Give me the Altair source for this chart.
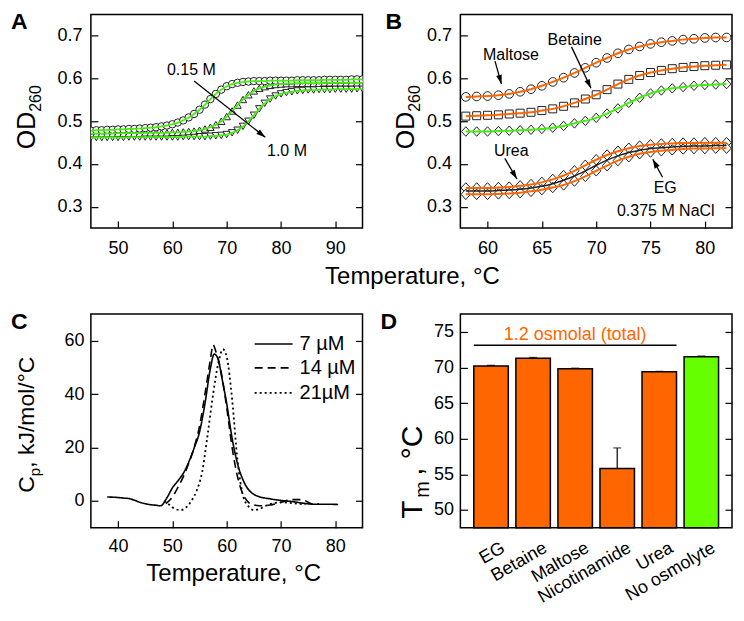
import math
import altair as alt
import pandas as pd

FONT = "Liberation Sans"
ORANGE = "#FF6600"
GREEN = "#66FF00"
FIT_GREEN = "#44EE11"
EDGE = "#222222"
ARROW_HEAD = "M0,0L0.32,1L-0.32,1Z"
TALL_DIAMOND = "M0,-1L0.9,0L0,1L-0.9,0Z"

panel_letters = ["A", "B", "C", "D"]
temp_title = "Temperature, °C"

a_temp = [45, 46, 47, 48, 49, 50, 51, 52, 53, 54,
          55, 56, 57, 58, 59, 60, 61, 62, 63, 64,
          65, 66, 67, 68, 69, 70, 71, 72, 73, 74,
          75, 76, 77, 78, 79, 80, 81, 82, 83, 84,
          85, 86, 87, 88, 89, 90, 91, 92, 93, 94, 95]
a_015 = [0.478, 0.479, 0.479, 0.480, 0.480, 0.481, 0.481, 0.482, 0.482, 0.483,
         0.484, 0.485, 0.486, 0.488, 0.490, 0.493, 0.497, 0.502, 0.509, 0.517,
         0.527, 0.539, 0.552, 0.564, 0.574, 0.582, 0.587, 0.590, 0.592, 0.593,
         0.594, 0.594, 0.594, 0.595, 0.595, 0.595, 0.595, 0.595, 0.596, 0.596,
         0.596, 0.596, 0.596, 0.597, 0.597, 0.597, 0.597, 0.597, 0.598, 0.598, 0.598]
a_mid = [0.471, 0.471, 0.471, 0.471, 0.471, 0.472, 0.472, 0.472, 0.472, 0.472,
         0.473, 0.473, 0.473, 0.473, 0.473, 0.474, 0.474, 0.475, 0.476, 0.477,
         0.479, 0.482, 0.486, 0.492, 0.500, 0.511, 0.524, 0.538, 0.551, 0.562,
         0.571, 0.577, 0.581, 0.584, 0.586, 0.587, 0.588, 0.588, 0.589, 0.589,
         0.589, 0.589, 0.589, 0.590, 0.590, 0.590, 0.590, 0.590, 0.590, 0.590, 0.590]
a_100 = [0.462, 0.462, 0.462, 0.462, 0.462, 0.462, 0.462, 0.463, 0.463, 0.463,
         0.463, 0.463, 0.463, 0.463, 0.463, 0.463, 0.463, 0.464, 0.464, 0.464,
         0.464, 0.464, 0.465, 0.466, 0.467, 0.469, 0.473, 0.479, 0.488, 0.500,
         0.514, 0.529, 0.542, 0.552, 0.559, 0.564, 0.567, 0.569, 0.571, 0.572,
         0.573, 0.573, 0.574, 0.574, 0.574, 0.575, 0.575, 0.575, 0.575, 0.576, 0.576]
a_labels = ["0.15 M", "1.0 M"]
a_label_t = [63.5, 81.1]
a_label_v = [0.619, 0.431]
a_arrow_t1 = [64.0]
a_arrow_v1 = [0.594]
a_arrow_t2 = [77.1]
a_arrow_v2 = [0.4625]

b_temp = [58, 59, 60, 61, 62, 63, 64, 65, 66, 67, 68, 69, 70,
          71, 72, 73, 74, 75, 76, 77, 78, 79, 80, 81, 82]
b_maltose = [0.557, 0.558, 0.559, 0.561, 0.564, 0.569, 0.575, 0.583, 0.592, 0.602, 0.613, 0.625, 0.637,
             0.648, 0.659, 0.668, 0.675, 0.681, 0.685, 0.688, 0.691, 0.693, 0.695, 0.696, 0.696]
b_betaine = [0.512, 0.513, 0.514, 0.515, 0.517, 0.519, 0.521, 0.525, 0.529, 0.535, 0.543, 0.552, 0.562,
             0.574, 0.587, 0.598, 0.607, 0.614, 0.619, 0.623, 0.626, 0.628, 0.630, 0.631, 0.632]
b_none = [0.476, 0.476, 0.476, 0.477, 0.478, 0.479, 0.480, 0.482, 0.485, 0.489, 0.495, 0.501, 0.508,
          0.518, 0.530, 0.543, 0.555, 0.565, 0.572, 0.577, 0.580, 0.583, 0.585, 0.586, 0.587]
b_urea = [0.344, 0.344, 0.344, 0.345, 0.346, 0.349, 0.352, 0.357, 0.364, 0.373, 0.384, 0.397, 0.410,
          0.421, 0.430, 0.437, 0.442, 0.445, 0.447, 0.448, 0.449, 0.449, 0.450, 0.450, 0.450]
b_eg = [0.329, 0.329, 0.329, 0.330, 0.331, 0.333, 0.336, 0.340, 0.345, 0.351, 0.360, 0.371, 0.384,
        0.396, 0.408, 0.417, 0.424, 0.428, 0.431, 0.433, 0.435, 0.436, 0.436, 0.437, 0.437]
b_mid = [0.337, 0.337, 0.337, 0.338, 0.339, 0.341, 0.344, 0.348, 0.354, 0.362, 0.372, 0.384, 0.397,
         0.409, 0.419, 0.427, 0.432, 0.436, 0.438, 0.440, 0.441, 0.442, 0.442, 0.443, 0.443]
b_labels = ["Maltose", "Betaine", "Urea", "EG"]
b_label_t = [62.16, 68.02, 62.18, 76.35]
b_label_v = [0.655, 0.689, 0.430, 0.344]
b_arrow_t1 = [60.69, 67.73, 61.59, 76.11]
b_arrow_v1 = [0.6406, 0.674, 0.413, 0.369]
b_arrow_t2 = [61.28, 69.52, 62.70, 75.21]
b_arrow_v2 = [0.587, 0.577, 0.365, 0.411]
b_note = ["0.375 M NaCl"]
b_note_t = [80.9]
b_note_v = [0.289]

c_series = ["7 µM", "14 µM", "21µM"]
c7_t = [38, 40, 41, 42, 43, 44, 45, 46, 47, 47.8, 49, 50, 51, 52, 53, 54, 55, 56, 57, 57.7,
        58.5, 59, 60, 61, 62, 63, 64, 65, 66, 68, 70, 72, 74, 76, 78, 80.5]
c7_v = [1.5, 1.3, 1.1, 0.9, 0.3, -0.5, -1.0, -1.4, -1.6, -1.8, 1.2, 4.9, 7.5, 10.3, 14.5, 19.8, 25.8, 36.5, 49.6, 55.0,
        52.6, 47.3, 36.5, 23.4, 13.9, 7.9, 4.3, 2.5, 1.6, 0.8, 0.2, -0.2, -0.8, -1.2, -1.2, -1.3]
c14_t = [48.8, 50, 51, 52, 53, 54, 55, 56, 57, 57.5, 58, 59, 60, 61, 62, 63, 64, 65, 66, 68,
         70, 72, 74, 75, 76, 77]
c14_v = [-1.0, 1.5, 5.0, 9.0, 14.0, 20.0, 28.0, 40.0, 53.0, 58.5, 56.0, 48.0, 35.0, 20.0, 9.0, 2.5, -0.5, -1.5, -1.8, -1.5,
         -0.5, 0.5, 0.5, -0.5, -1.2, -1.0]
c21_t = [48.5, 49.5, 50.5, 51.5, 52.5, 53.5, 54.5, 55.5, 56.5, 57.5, 58.5, 59.3, 60, 61, 62, 63, 64, 65, 66, 67,
         68, 70, 72, 74.5]
c21_v = [0.0, -1.5, -3.0, -3.4, -2.5, 0.0, 4.0, 11.0, 25.0, 40.0, 52.0, 56.8, 54.0, 38.0, 15.0, 2.0, -2.0, -3.4, -3.0, -2.0,
         -1.2, -0.5, -0.8, -1.3]

d_cats = ["EG", "Betaine", "Maltose", "Nicotinamide", "Urea", "No osmolyte"]
d_tm = [70.2, 71.3, 69.8, 55.8, 69.4, 71.5]
d_err = [0.1, 0.1, 0.1, 2.9, 0.05, 0.1]
d_group = ["osmolyte", "osmolyte", "osmolyte", "osmolyte", "osmolyte", "none"]
osm_text = ["1.2 osmolal (total)"]
osm_span = ["EG", "Urea"]
osm_line_y = [73.1]
osm_text_at = ["Maltose"]
osm_text_y = [74.55]

W, H = 272, 214
TICK = 7
PAD_IN, PAD_OUT = 0.18, 0.32


def txt(s, x, y, size=16, align="center", baseline="middle", angle=0, weight="normal", color="black"):
    return alt.Chart(pd.DataFrame({"t": [s]})).mark_text(
        font=FONT, fontSize=size, align=align, baseline=baseline, angle=angle,
        fontWeight=weight, color=color).encode(x=alt.value(x), y=alt.value(y), text="t:N")


def frame_layers(xs, ys, xdom, ydom, xticks, yticks, xfmt, yfmt, xpad, ypad, fs=18):
    df = pd.DataFrame({"x": [xdom[0]], "y": [ydom[0]]})
    base = alt.Chart(df).mark_point(opacity=0)
    tick_kw = dict(labels=False, ticks=True, tickSize=TICK, tickWidth=1.2, tickColor="black",
                   domain=False, grid=False, title=None)
    lab = base.encode(
        x=alt.X("x:Q", scale=xs, axis=alt.Axis(orient="bottom", values=xticks, format=xfmt, ticks=False,
                                                domain=False, grid=False, labelFontSize=fs, labelPadding=xpad,
                                                title=None, labelFlush=False, labelOverlap=False)),
        y=alt.Y("y:Q", scale=ys, axis=alt.Axis(orient="left", values=yticks, format=yfmt, ticks=False,
                                                domain=False, grid=False, labelFontSize=fs, labelPadding=ypad,
                                                title=None, labelFlush=False, labelOverlap=False)))
    tk1 = base.encode(
        x=alt.X("x:Q", scale=xs, axis=alt.Axis(orient="top", offset=-H, values=xticks, **tick_kw)),
        y=alt.Y("y:Q", scale=ys, axis=alt.Axis(orient="right", offset=-W, values=yticks, **tick_kw)))
    tk2 = base.encode(
        x=alt.X("x:Q", scale=xs, axis=None),
        y=alt.Y("y:Q", scale=ys, axis=alt.Axis(orient="left", offset=-W, values=yticks, **tick_kw)))
    return [lab, tk1, tk2]


def arrows(xs, ys, xdom, ydom, t1, v1, t2, v2):
    ang = []
    for a, b, c, d in zip(t1, v1, t2, v2):
        dx = (c - a) / (xdom[1] - xdom[0]) * W
        dy = -(d - b) / (ydom[1] - ydom[0]) * H
        ang.append(math.degrees(math.atan2(dx, -dy)) % 360)
    df = pd.DataFrame({"t1": t1, "v1": v1, "t2": t2, "v2": v2, "ang": ang})
    rule = alt.Chart(df).mark_rule(color="black", strokeWidth=1.3).encode(
        x=alt.X("t1:Q", scale=xs, axis=None), y=alt.Y("v1:Q", scale=ys, axis=None),
        x2="t2:Q", y2="v2:Q")
    head = alt.Chart(df).mark_point(shape=ARROW_HEAD, size=330, filled=True, color="black", opacity=1).encode(
        x=alt.X("t2:Q", scale=xs, axis=None), y=alt.Y("v2:Q", scale=ys, axis=None),
        angle=alt.Angle("ang:Q", scale=None))
    return [rule, head]


def series_points(xs, ys, temps, vals, shape, size):
    df = pd.DataFrame({"t": temps, "v": vals})
    return alt.Chart(df).mark_point(shape=shape, size=size, filled=True, fill="white", stroke=EDGE,
                                    strokeWidth=1, opacity=1, clip=True).encode(
        x=alt.X("t:Q", scale=xs, axis=None), y=alt.Y("v:Q", scale=ys, axis=None))


def series_line(xs, ys, temps, vals, color, width=2.0, dash=None):
    df = pd.DataFrame({"t": temps, "v": vals})
    kw = dict(color=color, strokeWidth=width, interpolate="monotone", clip=True)
    if dash is not None:
        kw["strokeDash"] = dash
    return alt.Chart(df).mark_line(**kw).encode(
        x=alt.X("t:Q", scale=xs, axis=None), y=alt.Y("v:Q", scale=ys, axis=None))


def labels_layer(xs, ys, names, ts, vs, size=16, align="center"):
    df = pd.DataFrame({"n": names, "t": ts, "v": vs})
    return alt.Chart(df).mark_text(font=FONT, fontSize=size, align=align, baseline="middle", color="black").encode(
        x=alt.X("t:Q", scale=xs, axis=None), y=alt.Y("v:Q", scale=ys, axis=None), text="n:N")


# ---------- A ----------
xdA, ydA = [45, 95], [0.25, 0.75]
xsA = alt.Scale(domain=xdA, nice=False, zero=False)
ysA = alt.Scale(domain=ydA, nice=False, zero=False)
layersA = frame_layers(xsA, ysA, xdA, ydA, [50, 60, 70, 80, 90], [0.3, 0.4, 0.5, 0.6, 0.7],
                       "d", ".1f", 11, 9)
layersA += [
    series_points(xsA, ysA, a_temp, a_100, "triangle-down", 55),
    series_points(xsA, ysA, a_temp, a_mid, "triangle-up", 55),
    series_points(xsA, ysA, a_temp, a_015, "circle", 55),
    series_line(xsA, ysA, a_temp, a_100, FIT_GREEN, 1.8),
    series_line(xsA, ysA, a_temp, a_mid, FIT_GREEN, 1.8),
    series_line(xsA, ysA, a_temp, a_015, FIT_GREEN, 1.8),
]
layersA += arrows(xsA, ysA, xdA, ydA, a_arrow_t1, a_arrow_v1, a_arrow_t2, a_arrow_v2)
layersA += [
    labels_layer(xsA, ysA, a_labels, a_label_t, a_label_v),
    txt(panel_letters[0], -80, -3, 23, align="left", baseline="top", weight="bold"),
    txt("OD", -55.5, 135, 25, align="left", baseline="alphabetic", angle=270),
    txt("260", -49.5, 97.5, 16, align="left", baseline="alphabetic", angle=270),
    txt(temp_title, 322, H + 49, 24),
]
chartA = alt.layer(*layersA).resolve_axis(x="independent", y="independent")

# ---------- B ----------
xdB, ydB = [57.5, 82.5], [0.25, 0.75]
xsB = alt.Scale(domain=xdB, nice=False, zero=False)
ysB = alt.Scale(domain=ydB, nice=False, zero=False)
layersB = frame_layers(xsB, ysB, xdB, ydB, [60, 65, 70, 75, 80], [0.3, 0.4, 0.5, 0.6, 0.7],
                       "d", ".1f", 11, 9)
layersB += [
    series_points(xsB, ysB, b_temp, b_maltose, "circle", 75),
    series_points(xsB, ysB, b_temp, b_betaine, "square", 64),
    series_points(xsB, ysB, b_temp, b_none, TALL_DIAMOND, 90),
    series_points(xsB, ysB, b_temp, b_urea, TALL_DIAMOND, 110),
    series_points(xsB, ysB, b_temp, b_eg, TALL_DIAMOND, 110),
    series_line(xsB, ysB, b_temp, b_mid, "#222222", 1.5),
    series_line(xsB, ysB, b_temp, b_maltose, ORANGE),
    series_line(xsB, ysB, b_temp, b_betaine, ORANGE),
    series_line(xsB, ysB, b_temp, b_none, FIT_GREEN),
    series_line(xsB, ysB, b_temp, b_urea, ORANGE),
    series_line(xsB, ysB, b_temp, b_eg, ORANGE),
]
layersB += arrows(xsB, ysB, xdB, ydB, b_arrow_t1, b_arrow_v1, b_arrow_t2, b_arrow_v2)
layersB += [
    labels_layer(xsB, ysB, b_labels, b_label_t, b_label_v),
    labels_layer(xsB, ysB, b_note, b_note_t, b_note_v, align="right"),
    txt(panel_letters[1], -75, -3, 23, align="left", baseline="top", weight="bold"),
    txt("OD", -46, 135, 25, align="left", baseline="alphabetic", angle=270),
    txt("260", -40, 97.5, 16, align="left", baseline="alphabetic", angle=270),
]
chartB = alt.layer(*layersB).resolve_axis(x="independent", y="independent")

# ---------- C ----------
xdC, ydC = [35, 85], [-10, 70]
xsC = alt.Scale(domain=xdC, nice=False, zero=False)
ysC = alt.Scale(domain=ydC, nice=False, zero=False)
layersC = frame_layers(xsC, ysC, xdC, ydC, [40, 50, 60, 70, 80], [0, 20, 40, 60],
                       "d", "d", 10, 7)
dashes = [[1, 0], [8, 5], [2, 3]]
layersC += [
    series_line(xsC, ysC, c7_t, c7_v, "black", 1.6, dashes[0]),
    series_line(xsC, ysC, c14_t, c14_v, "black", 1.6, dashes[1]),
    series_line(xsC, ysC, c21_t, c21_v, "black", 1.8, dashes[2]),
]
leg_rows = [30, 54, 79]
for name, dash, ry in zip(c_series, dashes, leg_rows):
    layersC.append(alt.Chart(pd.DataFrame({"n": [name]})).mark_rule(
        color="black", strokeWidth=1.6, strokeDash=dash).encode(
        x=alt.value(164), x2=alt.value(202), y=alt.value(ry)))
    layersC.append(txt(name, 209, ry, 20, align="left"))
layersC += [
    txt(panel_letters[2], -80, -3, 23, align="left", baseline="top", weight="bold"),
    txt("C", -57, 179, 23, align="left", baseline="alphabetic", angle=270),
    txt("p", -51, 162.4, 15, align="left", baseline="alphabetic", angle=270),
    txt(", kJ/mol/°C", -57, 154, 23, align="left", baseline="alphabetic", angle=270),
    txt(temp_title, 143, H + 46, 24),
]
chartC = alt.layer(*layersC).resolve_axis(x="independent", y="independent")

# ---------- D ----------
ydD = [47.5, 77.5]
xsD = alt.Scale(domain=d_cats, paddingInner=PAD_IN, paddingOuter=PAD_OUT)
ysD = alt.Scale(domain=ydD, nice=False, zero=False)
dfD = pd.DataFrame({"cat": d_cats, "tm": d_tm, "err": d_err, "grp": d_group})
dfD["top"] = dfD["tm"] + dfD["err"]
d_yticks = [50, 55, 60, 65, 70, 75]
tick_kwD = dict(labels=False, ticks=True, tickSize=TICK, tickWidth=1.2, tickColor="black",
                domain=False, grid=False, title=None, values=d_yticks)
xD_none = alt.X("cat:N", scale=xsD, sort=d_cats, axis=None)

bars = alt.Chart(dfD).mark_bar(stroke="black", strokeWidth=1.5).encode(
    x=alt.X("cat:N", scale=xsD, sort=d_cats,
            axis=alt.Axis(orient="bottom", ticks=False, domain=False, labelAngle=-30, labelAlign="right",
                          labelBaseline="top", labelFontSize=18, labelPadding=11, labelOffset=8,
                          title=None, labelOverlap=False)),
    y=alt.Y("tm:Q", scale=ysD,
            axis=alt.Axis(orient="left", values=d_yticks, ticks=False, domain=False,
                          grid=False, labelFontSize=18, labelPadding=7, title=None, labelOverlap=False,
                          labelFlush=False)),
    y2=alt.datum(ydD[0]),
    color=alt.Color("grp:N", scale=alt.Scale(domain=["osmolyte", "none"], range=[ORANGE, GREEN]), legend=None),
)
err_rule = alt.Chart(dfD).mark_rule(color="black", strokeWidth=1.2).encode(
    x=xD_none, y=alt.Y("tm:Q", scale=ysD, axis=None), y2="top:Q")
err_cap = alt.Chart(dfD).mark_tick(color="black", size=8, thickness=1.2).encode(
    x=xD_none, y=alt.Y("top:Q", scale=ysD, axis=None))
dtk1 = alt.Chart(dfD).mark_point(opacity=0).encode(
    x=xD_none, y=alt.Y("tm:Q", scale=ysD, axis=alt.Axis(orient="right", offset=-W, **tick_kwD)))
dtk2 = alt.Chart(dfD).mark_point(opacity=0).encode(
    x=xD_none, y=alt.Y("tm:Q", scale=ysD, axis=alt.Axis(orient="left", offset=-W, **tick_kwD)))
bar_half = 0.5 * W * (1 - PAD_IN) / (len(d_cats) - PAD_IN + 2 * PAD_OUT)
osm_df = pd.DataFrame({"s": [osm_span[0]], "e": [osm_span[1]], "y": osm_line_y})
osm_rule = alt.Chart(osm_df).mark_rule(color="black", strokeWidth=1.5, xOffset=-bar_half, x2Offset=bar_half).encode(
    x=alt.X("s:N", scale=xsD, sort=d_cats, axis=None),
    x2=alt.X2("e:N"),
    y=alt.Y("y:Q", scale=ysD, axis=None))
osm_lab = alt.Chart(pd.DataFrame({"c": osm_text_at, "y": osm_text_y, "t": osm_text})).mark_text(
    font=FONT, fontSize=18, color=ORANGE, baseline="middle").encode(
    x=alt.X("c:N", scale=xsD, sort=d_cats, axis=None), y=alt.Y("y:Q", scale=ysD, axis=None), text="t:N")
layersD = [bars, err_rule, err_cap, osm_rule, osm_lab, dtk1, dtk2,
           txt(panel_letters[3], -80, -3, 23, align="left", baseline="top", weight="bold"),
           txt("T", -38, 205, 30, align="left", baseline="alphabetic", angle=270),
           txt("m", -31, 184, 20, align="left", baseline="alphabetic", angle=270),
           txt(", °C", -38, 162, 30, align="left", baseline="alphabetic", angle=270)]
chartD = alt.layer(*layersD).resolve_axis(x="independent", y="independent")

chart = alt.concat(chartA, chartB, chartC, chartD, columns=2, bounds="flush",
                   spacing={"row": 86, "column": 98}).properties(
    padding=2, background="white"
).configure_view(stroke="black", strokeWidth=1.5, continuousWidth=W, continuousHeight=H,
                 discreteWidth=W, discreteHeight=H).configure_axis(
    labelFont=FONT, labelColor="black", titleFont=FONT)

chart.save("out.html", embed_options={"renderer": "svg", "actions": False})
